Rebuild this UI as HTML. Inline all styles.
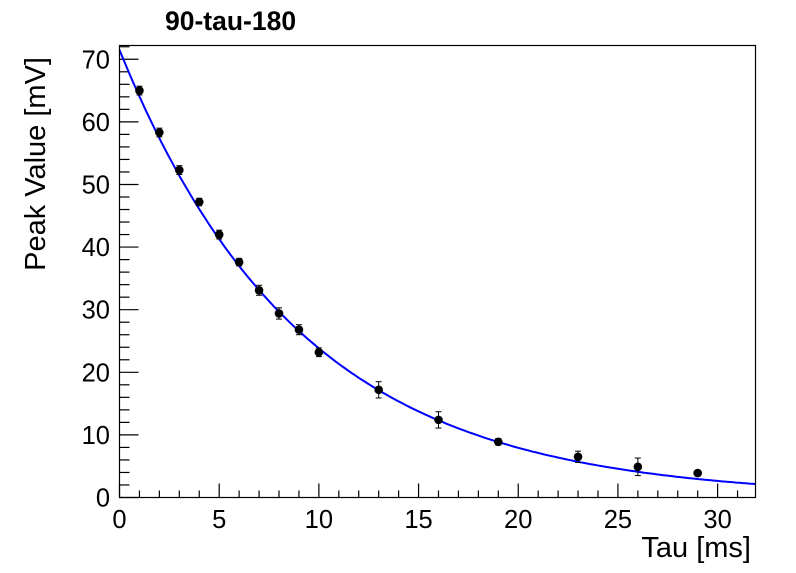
<!DOCTYPE html>
<html><head><meta charset="utf-8"><style>
html,body{margin:0;padding:0;background:#fff;}
svg{display:block;font-family:"Liberation Sans",sans-serif;}
</style></head><body>
<svg id="chart" width="796" height="573" viewBox="0 0 796 573">
<text x="165" y="30" font-size="26.5" font-weight="bold">90-tau-180</text>
<g id="axes"></g>
<path id="fit" fill="none" stroke="#0000ff" stroke-width="2"/>
<g id="pts"></g>
<rect x="119.5" y="45.5" width="636" height="452" fill="none" stroke="#000" stroke-width="1.2"/>
<text x="751" y="557" font-size="29" text-anchor="end">Tau [ms]</text>
<text transform="translate(45,57) rotate(-90)" font-size="29" text-anchor="end">Peak Value [mV]</text>
</svg>
<script>
const tauVals=[1,2,3,4,5,6,7,8,9,10,13,16,19,23,26,29];
const peakVals=[65,58.3,52.3,47.2,42,37.6,33.1,29.4,26.8,23.2,17.2,12.4,8.9,6.5,4.9,3.9];
const peakErrs=[0.7,0.7,0.7,0.6,0.7,0.6,0.8,0.9,0.8,0.7,1.3,1.3,0.5,0.9,1.4,0.4];
const xTicks=[0,5,10,15,20,25,30];
const yTicks=[0,10,20,30,40,50,60,70];
const fitA=71.5, fitTau=9.1;
const X0=119.5,X1=755.5,Y0=497.5,Y1=45.5,xmax=31.9,ymax=72.2;
const sx=v=>X0+v/xmax*(X1-X0), sy=v=>Y0-v/ymax*(Y0-Y1);
const NS='http://www.w3.org/2000/svg';
function mk(t,a,p){const e=document.createElementNS(NS,t);for(const k in a)e.setAttribute(k,a[k]);p.appendChild(e);return e;}
const ax=document.getElementById('axes');
for(let v=0;v<=xmax;v+=1){const maj=v%5===0;
 const l=mk('line',{x1:sx(v),x2:sx(v),y1:Y0,y2:Y0-(maj?14:7),stroke:'#000','stroke-width':1.2},ax);
 
 }
for(let v=0;v<=ymax;v+=2){const maj=v%10===0;
 const l=mk('line',{x1:X0,x2:X0+(maj?19:10),y1:sy(v),y2:sy(v),stroke:'#000','stroke-width':1.2},ax);
 
 }
xTicks.forEach(v=>{const t=mk('text',{x:sx(v),y:528,'font-size':25.5,'text-anchor':'middle'},ax);t.textContent=v;
 
 });
yTicks.forEach(v=>{const t=mk('text',{x:110,y:sy(v)+9,'font-size':25.5,'text-anchor':'end'},ax);t.textContent=v;
 
 });
let d='';for(let i=0;i<=200;i++){const t=i/200*xmax;d+=(i?'L':'M')+sx(t).toFixed(1)+','+sy(fitA*Math.exp(-t/fitTau)).toFixed(1);}
document.getElementById('fit').setAttribute('d',d);
const pg=document.getElementById('pts');
tauVals.forEach((t,i)=>{const x=sx(t),y=sy(peakVals[i]),e=peakErrs[i];
 const b=mk('line',{x1:x,x2:x,y1:sy(peakVals[i]+e),y2:sy(peakVals[i]-e),stroke:'#000','stroke-width':1},pg);
 
 
 [peakVals[i]+e,peakVals[i]-e].forEach(v=>{const c=mk('line',{x1:x-3,x2:x+3,y1:sy(v),y2:sy(v),stroke:'#000','stroke-width':1},pg);
  
  });
 const c=mk('circle',{cx:x,cy:y,r:4.3,fill:'#000'},pg);
 
 });
</script>
</body></html>
